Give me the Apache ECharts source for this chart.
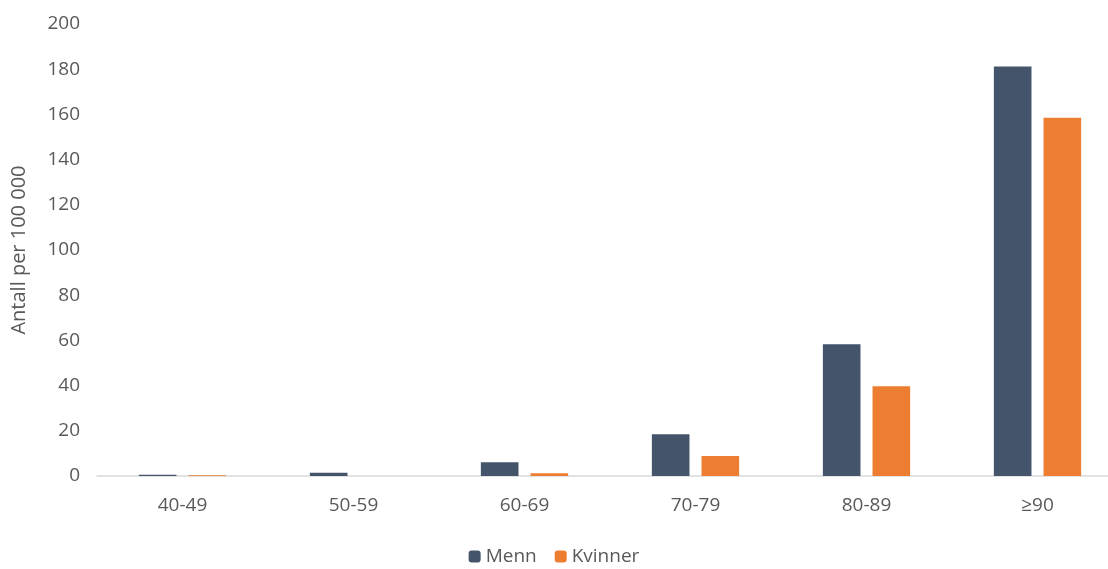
<!DOCTYPE html>
<html><head><meta charset="utf-8">
<script src="https://cdn.jsdelivr.net/npm/echarts@6/dist/echarts.min.js"></script>
<style>html,body{margin:0;padding:0;background:#fff}#c{width:1108px;height:569px}</style>
</head><body><div id="c"></div>
<script>
var categories = ['40-49', '50-59', '60-69', '70-79', '80-89', '≥90'];
var menn = [0.6, 1.4, 6.1, 18.5, 58.3, 181.2];
var kvinner = [0.3, 0, 1.2, 8.8, 39.7, 158.5];

var font = 'Open Sans, Calibri, sans-serif';
var chart = echarts.init(document.getElementById('c'));
chart.setOption({
	textStyle: {fontFamily: font},
	grid: {left: 97, width: 1026, top: 24, bottom: 93, outerBoundsMode: 'none', containLabel: false},
	legend: {
		bottom: -2, itemWidth: 12, itemHeight: 12, itemGap: 18,
		textStyle: {fontSize: 19, color: '#595959', fontFamily: font},
		data: ['Menn', 'Kvinner']
	},
	xAxis: {
		type: 'category', data: categories,
		axisTick: {show: false},
		axisLine: {lineStyle: {color: '#d9d9d9', width: 1.5}},
		axisLabel: {fontSize: 19, color: '#595959', margin: 20}
	},
	yAxis: {
		type: 'value', min: 0, max: 200, interval: 20,
		name: 'Antall per 100 000', nameLocation: 'middle', nameGap: 68,
		nameTextStyle: {fontSize: 20, color: '#595959'},
		splitLine: {show: false},
		axisLabel: {fontSize: 19, color: '#595959', margin: 17}
	},
	series: [
		{name: 'Menn', type: 'bar', data: menn, barWidth: '22%', barGap: '32%',
		 itemStyle: {color: '#44546a'}},
		{name: 'Kvinner', type: 'bar', data: kvinner, barWidth: '22%',
		 itemStyle: {color: '#ed7d31'}}
	]
});
</script></body></html>
